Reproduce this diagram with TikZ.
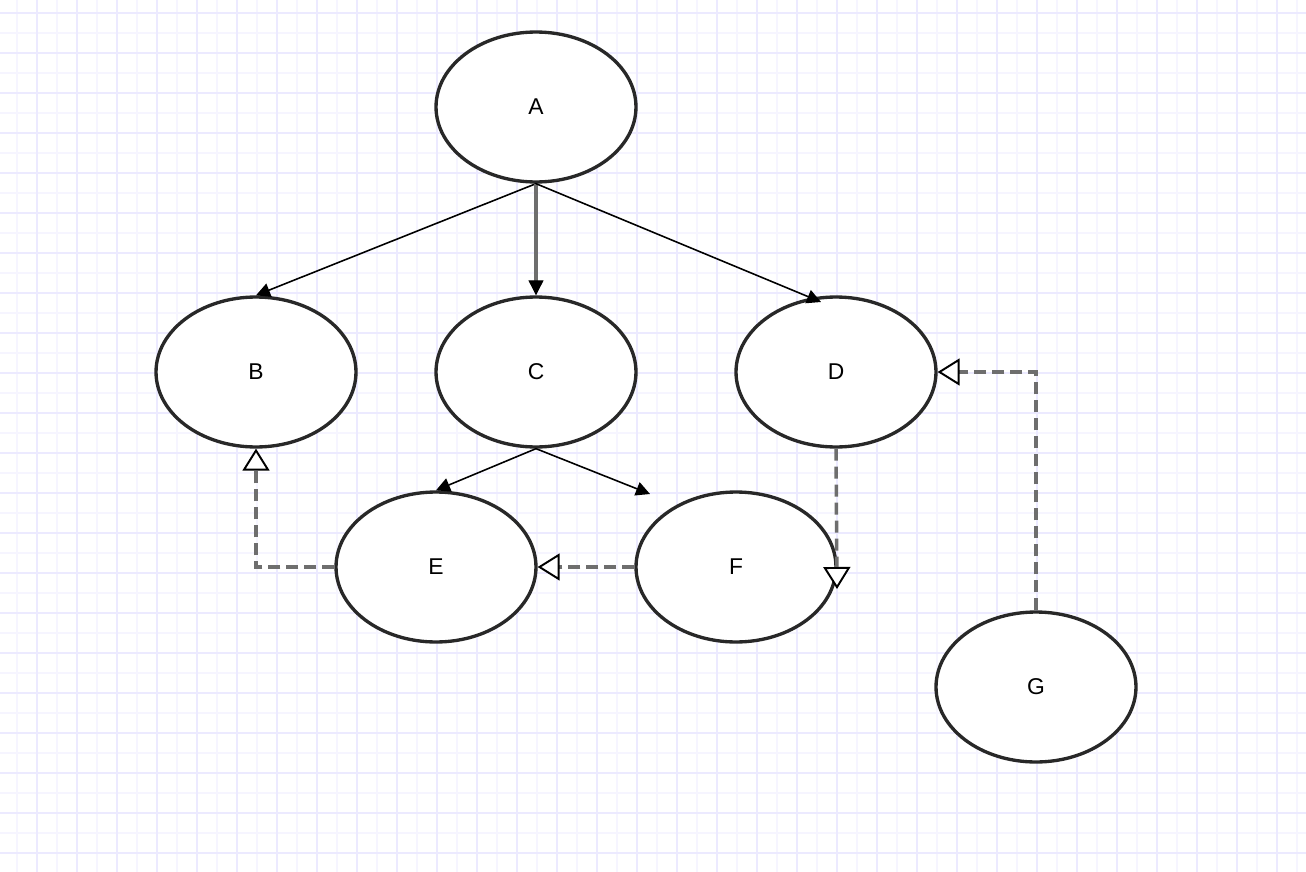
\documentclass[tikz,border=0pt]{standalone}
\usepackage{fontspec}
\setmainfont{Liberation Sans}
\usetikzlibrary{arrows.meta,shapes.geometric}

\definecolor{gridlight}{RGB}{246,245,255}
\definecolor{gridstrong}{RGB}{236,234,255}
\definecolor{rim}{RGB}{40,40,40}
\definecolor{dashgray}{RGB}{110,110,110}

\begin{document}
\begin{tikzpicture}[x=0.02cm,y=-0.02cm,
  every node/.style={font=\fontsize{13}{15}\selectfont},
  class/.style={draw=rim,ellipse,line width=1.9pt,fill=white,minimum width=4cm,minimum height=3cm,inner sep=0pt},
  assoc/.style={-{Triangle[length=0.28cm,width=0.28cm]},line width=0.9pt,black},
  trunk/.style={-{Triangle[length=0.3cm,width=0.3cm,color=black,fill=black,line width=0.5pt]},line width=1.8pt,draw=dashgray},
  inherit/.style={-{Triangle[open,length=0.44cm,width=0.54cm,fill=white,color=black,line width=1.1pt]},
    line width=2pt,dashgray,dash pattern=on 0.24cm off 0.12cm}]
\useasboundingbox (0,0) rectangle (1306,872);
\fill[white] (0,0) rectangle (1306,872);
% grid paper
\foreach \gx in {17,57,...,1297} \draw[gridlight,line width=1pt] (\gx,0) -- (\gx,872);
\foreach \gy in {33,73,...,872} \draw[gridlight,line width=1pt] (0,\gy) -- (1306,\gy);
\foreach \gx in {37,77,...,1297} \draw[gridstrong,line width=1pt] (\gx,0) -- (\gx,872);
\foreach \gy in {13,53,...,872} \draw[gridstrong,line width=1pt] (0,\gy) -- (1306,\gy);

\node[class] (A) at (536,107) {A};
\node[class] (B) at (256,372) {B};
\node[class] (C) at (536,372) {C};
\node[class] (D) at (836,372) {D};
\node[class] (E) at (436,567) {E};
\node[class] (F) at (736,567) {F};
\node[class] (G) at (1036,687) {G};
\coordinate (Dtip) at (821,302);
\coordinate (Ftip) at (650,494);
\coordinate (DFtip) at (837,589);

\draw[assoc] (A.south) -- (B.north);
\draw[trunk] (A.south) -- (C.north);
\draw[assoc] (A.south) -- (Dtip);
\draw[assoc] (C.south) -- (E.north);
\draw[assoc] (C.south) -- (Ftip);
\draw[inherit] (E.west) -| (B.south);
\draw[inherit] (F.west) -- (E.east);
\draw[inherit] (D.south) -- (DFtip);
\draw[inherit] (G.north) |- (D.east);
\end{tikzpicture}
\end{document}
